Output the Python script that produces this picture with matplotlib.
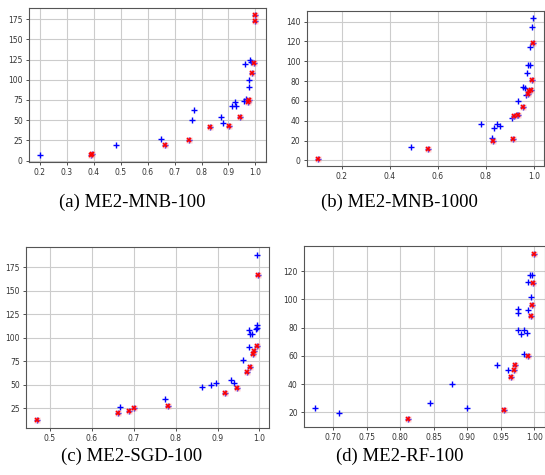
import numpy as np
import matplotlib
matplotlib.use("Agg")
import matplotlib.pyplot as plt

# (a) ME2-MNB-100
a_x = [0.200, 0.389, 0.395, 0.483, 0.648, 0.665, 0.754, 0.766, 0.774, 0.833, 0.871, 0.880,
       0.903, 0.913, 0.927, 0.924, 0.943, 0.959, 0.966, 0.971, 0.977, 0.963, 0.979, 0.985,
       0.994, 0.976, 0.977, 0.987, 0.997, 0.999]
a_y = [7, 7, 8, 19, 26.6, 19, 25, 50, 62, 41, 54, 47, 43, 67, 67, 73, 54, 74, 76, 72.5,
       74.6, 120, 124.6, 122.5, 121, 99.6, 90.6, 108.6, 172.5, 180]
a_red = [1, 2, 5, 6, 9, 12, 16, 19, 20, 24, 27, 28, 29]

# (b) ME2-MNB-1000
b_x = [0.100, 0.490, 0.558, 0.778, 0.826, 0.832, 0.836, 0.845, 0.859, 0.907, 0.914, 0.916,
       0.928, 0.935, 0.932, 0.956, 0.956, 0.963, 0.967, 0.977, 0.981, 0.988, 0.970, 0.974,
       0.984, 0.984, 0.991, 0.993, 0.996, 0.997]
b_y = [1.7, 14, 11.7, 37, 22.8, 19.5, 32.6, 37, 35, 42.3, 22, 45, 45.7, 46.3, 60.4, 53.7,
       74.5, 73.2, 66, 67, 70.5, 71.2, 88, 96.4, 96.4, 114, 81.2, 134.6, 143.7, 118.5]
b_red = [0, 2, 5, 10, 11, 13, 15, 19, 20, 21, 26, 29]

# (c) ME2-SGD-100
c_x = [0.470, 0.667, 0.663, 0.689, 0.702, 0.774, 0.783, 0.862, 0.885, 0.896, 0.919, 0.933,
       0.940, 0.947, 0.961, 0.970, 0.977, 0.975, 0.975, 0.978, 0.983, 0.985, 0.987, 0.994,
       0.991, 0.993, 0.994, 0.995, 0.997]
c_y = [12.5, 26, 19.3, 21.4, 25, 34.6, 27, 47, 50, 51.4, 41, 54.5, 52, 46.4, 76.3, 63,
       68.5, 90.6, 108.3, 104, 104, 82.3, 86, 91.7, 109.4, 110.8, 114, 188, 167]
c_red = [0, 2, 3, 4, 6, 10, 13, 15, 16, 21, 22, 23, 28]

# (d) ME2-RF-100
d_x = [0.673, 0.708, 0.812, 0.845, 0.877, 0.899, 0.945, 0.955, 0.961, 0.965, 0.969, 0.971,
       0.975, 0.975, 0.975, 0.980, 0.985, 0.989, 0.985, 0.990, 0.990, 0.990, 0.993, 0.996,
       0.995, 0.996, 0.995, 0.998, 0.9995]
d_y = [23.5, 19.3, 15.5, 26.4, 40, 23.5, 53.5, 21.6, 50.2, 45.3, 50.2, 53.3, 93.3, 90.2,
       78.4, 75.3, 78.4, 76.3, 61.6, 60.2, 92.3, 112.2, 117.4, 117.4, 102, 95.9, 88, 112, 132]
d_red = [2, 7, 9, 10, 11, 19, 25, 26, 27, 28]

captions = ["(a) ME2-MNB-100", "(b) ME2-MNB-1000", "(c) ME2-SGD-100", "(d) ME2-RF-100"]

panels = [(a_x, a_y, a_red), (b_x, b_y, b_red), (c_x, c_y, c_red), (d_x, d_y, d_red)]
boxes = [[0.053, 0.659, 0.435, 0.324],
         [0.563, 0.651, 0.435, 0.326],
         [0.048, 0.099, 0.446, 0.381],
         [0.558, 0.101, 0.442, 0.381]]
cap_pos = [(0.242, 0.575), (0.732, 0.575), (0.242, 0.040), (0.734, 0.040)]

fig = plt.figure(figsize=(5.45, 4.75), dpi=100)

for (xs, ys, red), box, cap, (cx, cy) in zip(panels, boxes, captions, cap_pos):
    ax = fig.add_axes(box)
    xs = np.array(xs)
    ys = np.array(ys)
    ax.plot(xs, ys, '+', color='blue', ms=4, mew=1.0, zorder=3)
    ax.plot(xs[red], ys[red], 's', color='#ff9999', ms=5, alpha=0.45, mec='none', zorder=4)
    ax.plot(xs[red], ys[red], 'x', color='red', ms=3.5, mew=1.2, zorder=5)
    ax.grid(True, color='#cccccc', lw=0.8)
    ax.set_axisbelow(True)
    ax.tick_params(labelsize=5.5, length=2.5, width=0.6, colors='#333333', pad=2)
    for s in ax.spines.values():
        s.set_color('#555555')
        s.set_linewidth(0.8)
    fig.text(cx, cy, cap, ha='center', va='center', fontsize=13.5,
             family='Liberation Serif')

fig.savefig("out.png", dpi=100)
